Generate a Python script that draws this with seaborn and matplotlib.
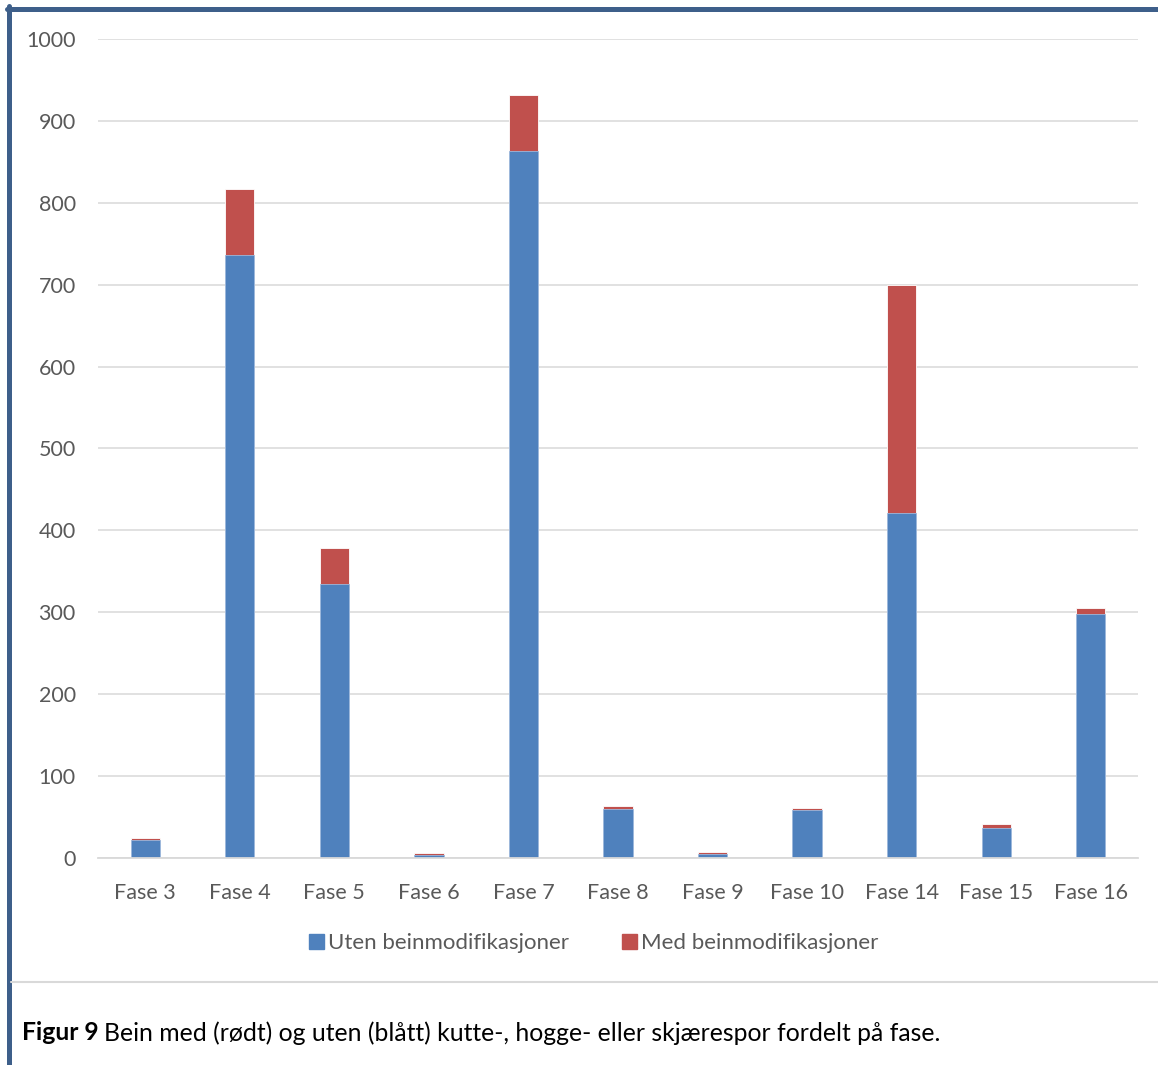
import matplotlib
matplotlib.use("Agg")
import matplotlib.pyplot as plt
import seaborn as sns
import pandas as pd
from matplotlib.patches import Patch
from matplotlib.lines import Line2D

# Data
faser = ["Fase 3", "Fase 4", "Fase 5", "Fase 6", "Fase 7", "Fase 8",
         "Fase 9", "Fase 10", "Fase 14", "Fase 15", "Fase 16"]
uten = [22, 736, 335, 4, 863, 60, 5, 58, 421, 37, 298]
med = [3, 81, 43, 2, 69, 4, 2, 3, 279, 5, 7]

BLUE = "#4F81BD"
RED = "#C0504D"
GREY_TXT = "#595959"
FONT = ["Lato", "DejaVu Sans"]

sns.set_theme(style="white")
plt.rcParams["font.family"] = FONT

df = pd.DataFrame({"Fase": faser, "Uten": uten, "Med": med})
df["Total"] = df["Uten"] + df["Med"]

fig = plt.figure(figsize=(11.58, 10.65), dpi=100)
ax = fig.add_axes([98 / 1158, 1 - 858 / 1065, 1040 / 1158, 819 / 1065])

# stacked bars: total (red) underneath, blue on top of it
sns.barplot(data=df, x="Fase", y="Total", color=RED, width=0.31,
            saturation=1, edgecolor="white", linewidth=0.6, ax=ax)
sns.barplot(data=df, x="Fase", y="Uten", color=BLUE, width=0.31,
            saturation=1, edgecolor="#9db8dc", linewidth=0.6, ax=ax)

ax.set_ylim(0, 1000)
ax.set_xlim(-0.5, len(faser) - 0.5)
ax.set_yticks(range(0, 1001, 100))
ax.yaxis.grid(True, color="#d9d9d9", linewidth=1.1)
ax.set_axisbelow(True)
for s in ["top", "right", "left"]:
    ax.spines[s].set_visible(False)
ax.spines["bottom"].set_color("#d9d9d9")
ax.spines["bottom"].set_linewidth(1.3)
ax.set_xlabel("")
ax.set_ylabel("")
ax.tick_params(axis="both", length=0, labelsize=15.5, colors=GREY_TXT)
ax.tick_params(axis="x", pad=18)
ax.tick_params(axis="y", pad=16)

handles = [Patch(color=BLUE, label="Uten beinmodifikasjoner"),
           Patch(color=RED, label="Med beinmodifikasjoner")]
leg = fig.legend(handles=handles, loc="center", ncol=2, frameon=False,
                 bbox_to_anchor=(594 / 1158, 1 - 943 / 1065),
                 fontsize=16, handlelength=0.65, handleheight=0.65,
                 handletextpad=0.2, columnspacing=2.4)
for t in leg.get_texts():
    t.set_color(GREY_TXT)

# frame lines of the figure box
border = "#3E5F8A"
fig.add_artist(Line2D([9 / 1158, 9 / 1158], [0, 1 - 6 / 1065],
                      transform=fig.transFigure, color=border, linewidth=3.6))
fig.add_artist(Line2D([7 / 1158, 1], [1 - 8.5 / 1065, 1 - 8.5 / 1065],
                      transform=fig.transFigure, color=border, linewidth=3.6))
fig.add_artist(Line2D([11 / 1158, 1], [1 - 982 / 1065, 1 - 982 / 1065],
                      transform=fig.transFigure, color="#d9d9d9", linewidth=1.5))

# caption
t1 = fig.text(22 / 1158, 1 - 1033 / 1065, "Figur 9", fontsize=17.8,
              fontweight="bold", color="black", va="center", ha="left")
ax.annotate("Bein med (rødt) og uten (blått) kutte-, hogge- eller skjærespor fordelt på fase.",
            xy=(1, 0.5), xycoords=t1, xytext=(4, 0), textcoords="offset points",
            fontsize=17.8, color="black", va="center", ha="left",
            annotation_clip=False)

fig.savefig("out.png", dpi=100)
